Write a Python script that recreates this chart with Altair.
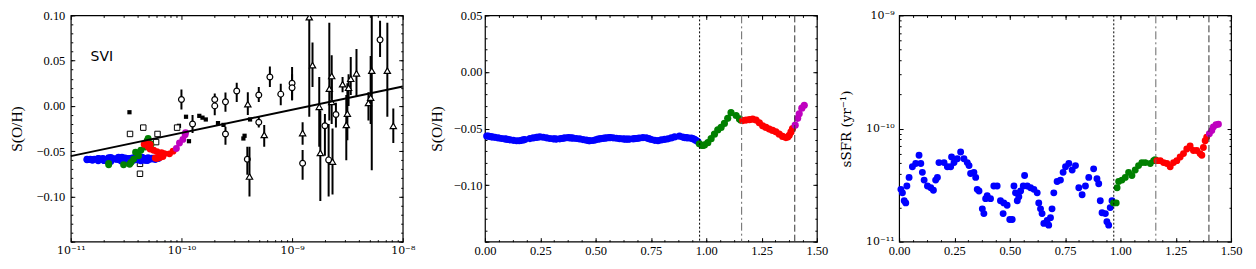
import altair as alt
import pandas as pd

# ---------------- simulated track (shared by the three panels) ----------------
# time (arbitrary units), sSFR in units of 1e-11 yr^-1, S(O/H)
blue_t = [0.008, 0.015, 0.023, 0.030, 0.035, 0.045, 0.060, 0.075, 0.090, 0.098,
          0.105, 0.113, 0.128, 0.143, 0.155, 0.165, 0.173, 0.180, 0.203, 0.218,
          0.233, 0.237, 0.248, 0.263, 0.278, 0.293, 0.308, 0.316, 0.323, 0.338,
          0.346, 0.353, 0.361, 0.376, 0.383, 0.391, 0.398, 0.413, 0.428, 0.443,
          0.458, 0.470, 0.473, 0.488, 0.500, 0.511, 0.519, 0.526, 0.534, 0.541,
          0.549, 0.561, 0.567, 0.579, 0.594, 0.609, 0.624, 0.631, 0.639, 0.646,
          0.654, 0.669, 0.676, 0.684, 0.691, 0.699, 0.714, 0.729, 0.741, 0.752,
          0.767, 0.782, 0.797, 0.812, 0.827, 0.842, 0.857, 0.879, 0.894, 0.902,
          0.909, 0.917, 0.932, 0.939, 0.947, 0.954, 0.962]
blue_ssfr = [2.9, 2.7, 2.3, 2.2, 3.1, 3.7, 4.6, 4.9, 5.8, 4.9,
             4.1, 3.5, 3.1, 3.0, 2.85, 3.5, 3.7, 5.0, 5.0, 4.6,
             4.6, 5.6, 5.0, 5.4, 6.2, 5.4, 5.0, 4.7, 4.0, 4.1,
             3.7, 2.9, 2.8, 1.95, 1.77, 2.4, 2.55, 2.4, 3.1, 3.1,
             2.3, 1.77, 2.2, 2.1, 1.57, 1.57, 3.1, 2.7, 2.3, 2.5,
             2.8, 3.1, 3.85, 3.1, 3.0, 2.9, 2.7, 2.2, 1.95, 1.77,
             1.45, 1.54, 1.4, 1.63, 1.95, 2.7, 3.4, 3.5, 4.1, 4.6,
             4.9, 4.3, 4.7, 3.0, 2.6, 3.1, 3.7, 4.4, 3.6, 3.25,
             2.3, 1.8, 1.77, 1.5, 1.4, 2.0, 2.3]
blue_soh = [-0.0566, -0.0568, -0.0571, -0.0573, -0.0575, -0.0578, -0.0583, -0.0588, -0.0592, -0.0594,
            -0.0597, -0.0600, -0.0604, -0.0608, -0.0608, -0.0604, -0.0601, -0.0598, -0.0589, -0.0583,
            -0.0578, -0.0577, -0.0573, -0.0577, -0.0582, -0.0588, -0.0591, -0.0592, -0.0593, -0.0591,
            -0.0588, -0.0586, -0.0583, -0.0581, -0.0582, -0.0583, -0.0585, -0.0588, -0.0592, -0.0598,
            -0.0603, -0.0607, -0.0608, -0.0606, -0.0600, -0.0594, -0.0591, -0.0589, -0.0587, -0.0585,
            -0.0583, -0.0581, -0.0580, -0.0582, -0.0586, -0.0590, -0.0592, -0.0593, -0.0594, -0.0594,
            -0.0593, -0.0591, -0.0590, -0.0588, -0.0586, -0.0584, -0.0580, -0.0582, -0.0590, -0.0597,
            -0.0604, -0.0607, -0.0601, -0.0596, -0.0591, -0.0583, -0.0574, -0.0568, -0.0576, -0.0580,
            -0.0581, -0.0583, -0.0585, -0.0590, -0.0596, -0.0605, -0.0615]

green_t = [0.969, 0.981, 0.985, 0.992, 1.007, 1.022, 1.037, 1.052, 1.067, 1.082,
           1.097, 1.112, 1.135, 1.150, 1.157]
green_ssfr = [2.2, 2.2, 3.0, 3.4, 3.5, 3.7, 4.1, 3.85, 4.3, 4.7,
              5.0, 5.0, 4.9, 5.2, 5.3]
green_soh = [-0.0635, -0.0650, -0.0650, -0.0645, -0.0625, -0.0590, -0.0550, -0.0512, -0.0490, -0.0455,
             -0.0410, -0.0360, -0.0385, -0.0415, -0.0426]

red_t = [1.165, 1.180, 1.195, 1.210, 1.225, 1.240, 1.255, 1.270, 1.285, 1.300,
         1.315, 1.330, 1.345, 1.360, 1.368, 1.375, 1.383, 1.390]
red_ssfr = [5.2, 5.2, 5.0, 4.9, 4.6, 5.0, 5.2, 5.6, 6.0, 6.6,
            7.0, 6.4, 6.4, 6.0, 5.8, 6.8, 7.8, 8.4]
red_soh = [-0.0430, -0.0425, -0.0422, -0.0417, -0.0425, -0.0450, -0.0476, -0.0490, -0.0505, -0.0517,
           -0.0529, -0.0550, -0.0570, -0.0580, -0.0575, -0.0560, -0.0530, -0.0500]

magenta_t = [1.402, 1.413, 1.420, 1.432, 1.443]
magenta_ssfr = [9.0, 9.6, 10.3, 10.8, 10.9]
magenta_soh = [-0.0470, -0.0410, -0.0370, -0.0320, -0.0295]

phase_names = ["blue", "green", "red", "magenta"]
phase_colors = ["#0000ff", "#008000", "#ff0000", "#bf00bf"]

# ---------------- observations (panel 1) ----------------
fsq_x = [3.39e-11, 1.10e-10, 9.5e-11, 1.45e-10, 1.55e-10, 1.66e-10, 2.14e-10, 2.40e-10,
         1.17e-10, 3.63e-10, 3.72e-10, 4.17e-10]
fsq_y = [-0.007, -0.012, -0.022, -0.011, -0.013, -0.015, -0.019, -0.021,
         -0.039, -0.036, -0.033, -0.015]

osq_x = [3.43e-11, 4.52e-11, 6.08e-11, 9.14e-11, 4.22e-11, 4.22e-11, 5.9e-11]
osq_y = [-0.031, -0.024, -0.031, -0.024, -0.064, -0.075, -0.040]

circ_x = [1.0e-10, 1.26e-10, 2.0e-10, 2.0e-10, 2.5e-10, 2.5e-10, 3.16e-10, 5.0e-10, 5.0e-10,
          6.3e-10, 7.9e-10, 1.0e-9, 1.0e-9, 3.94e-10, 1.245e-9, 1.98e-9, 2.14e-9, 2.49e-9, 6.24e-9]
circ_y = [0.007, -0.020, 0.007, 0.000, 0.0045, -0.031, 0.0165, 0.012, -0.018,
          0.032, 0.013, 0.025, 0.020, -0.059, -0.0634, -0.022, -0.0597, -0.0095, 0.073]
circ_lo = [-0.004, -0.030, -0.002, -0.0103, -0.0066, -0.043, 0.0044, 0.0044, -0.024,
           0.0209, 0.0007, 0.0062, 0.0062, -0.076, -0.0817, -0.055, -0.100, -0.024, 0.054]
circ_hi = [0.018, -0.010, 0.0136, 0.008, 0.0147, -0.023, 0.0256, 0.021, -0.012,
           0.0436, 0.0246, 0.0429, 0.035, -0.045, -0.0487, -0.009, -0.020, 0.0035, 0.094]

tri_x = [3.98e-10, 4.12e-10, 5.6e-10, 1.43e-9, 1.53e-9, 1.245e-9, 1.76e-9, 1.80e-9,
         2.17e-9, 2.28e-9, 2.28e-9, 2.32e-9, 2.86e-9, 3.39e-9, 3.16e-9, 3.09e-9,
         3.24e-9, 3.82e-9, 4.9e-9, 5.25e-9, 5.13e-9, 7.26e-9, 8.22e-9]
tri_y = [0.002, -0.078, -0.032, 0.098, 0.045, -0.030, -0.001, -0.052,
         0.019, 0.033, 0.0044, -0.0615, 0.024, 0.030, -0.0085, -0.021,
         0.020, 0.036, 0.0033, 0.039, 0.0092, 0.039, -0.022]
tri_lo = [-0.010, -0.100, -0.045, -0.012, 0.021, -0.043, -0.045, -0.105,
          -0.016, 0.008, -0.020, -0.098, 0.015, 0.012, -0.038, -0.060,
          0.000, 0.010, -0.016, -0.071, -0.020, -0.012, -0.041]
tri_hi = [0.015, -0.045, -0.021, 0.200, 0.070, -0.018, 0.032, -0.005,
          0.092, 0.056, 0.030, -0.025, 0.032, 0.054, 0.025, 0.012,
          0.035, 0.063, 0.015, 0.149, 0.055, 0.092, -0.003]

fit_x = [1e-11, 1e-8]
fit_y = [-0.0555, 0.0215]

note_text = ["SVI"]
note_x = [1.51e-11]
note_y = [0.050]

# vertical phase boundaries (panels 2 and 3)
vline_t = [0.97, 1.16, 1.40]

# ---------------- tables ----------------
rows = []
for name, ts, ss, so in [("blue", blue_t, blue_ssfr, blue_soh),
                         ("green", green_t, green_ssfr, green_soh),
                         ("red", red_t, red_ssfr, red_soh),
                         ("magenta", magenta_t, magenta_ssfr, magenta_soh)]:
    for a, b, c in zip(ts, ss, so):
        rows.append({"t": a, "ssfr": b * 1e-11, "soh": c, "phase": name})
track = pd.DataFrame(rows)

fsq = pd.DataFrame({"x": fsq_x, "y": fsq_y})
osq = pd.DataFrame({"x": osq_x, "y": osq_y})
circ = pd.DataFrame({"x": circ_x, "y": circ_y, "lo": circ_lo, "hi": circ_hi})
tri = pd.DataFrame({"x": tri_x, "y": tri_y, "lo": tri_lo, "hi": tri_hi})
fit = pd.DataFrame({"x": fit_x, "y": fit_y})
note = pd.DataFrame({"x": note_x, "y": note_y, "text": note_text})
vl = pd.DataFrame({"t": vline_t, "style": ["dotted", "dashdot", "dashed"]})

# ---------------- styling helpers ----------------
SERIF = "Liberation Serif"
SUPFONT = "DejaVu Serif"   # has all superscript glyphs
W, H = 333, 227
DOT = 48

LOGEXPR = ("round(log(datum.value)/LN10) == -11 ? '10⁻¹¹' : "
           "round(log(datum.value)/LN10) == -10 ? '10⁻¹⁰' : "
           "round(log(datum.value)/LN10) == -9 ? '10⁻⁹' : '10⁻⁸'")

color_scale = alt.Scale(domain=phase_names, range=phase_colors)


def tick_layers(data, xf, yf, xsc, ysc, xmaj, xmin, ymaj, ymin):
    out = []
    for xo, yo, xv, yv, L in [("bottom", "left", xmaj, ymaj, 4),
                              ("bottom", "left", xmin, ymin, 2),
                              ("top", "right", xmaj, ymaj, 4),
                              ("top", "right", xmin, ymin, 2)]:
        common = dict(labels=False, domain=False, grid=False, ticks=True,
                      tickColor="black", tickWidth=1, tickSize=L, offset=-L, title=None)
        out.append(alt.Chart(data).mark_point(opacity=0).encode(
            x=alt.X(xf, scale=xsc, axis=alt.Axis(orient=xo, values=xv, **common)),
            y=alt.Y(yf, scale=ysc, axis=alt.Axis(orient=yo, values=yv, **common)),
        ))
    return out


def vlines(xsc, ysc):
    styles = [("dotted", [2, 2], "black"), ("dashdot", [8, 3, 2, 3], "#666666"), ("dashed", [7, 3], "#333333")]
    out = []
    for name, dash, col in styles:
        out.append(alt.Chart(vl).transform_filter(alt.datum.style == name).mark_rule(
            strokeDash=dash, color=col, strokeWidth=1).encode(
            x=alt.X("t:Q", scale=xsc, axis=None)))
    return out


log_minor_1 = [m * 10.0 ** e for e in (-11, -10, -9) for m in range(2, 10)]
log_minor_3 = [m * 10.0 ** e for e in (-11, -10) for m in range(2, 10)]
t_major = [0, 0.25, 0.5, 0.75, 1.0, 1.25, 1.5]
t_minor = [i * 0.0625 for i in range(25)]

# ---------------- panel 1 ----------------
xs1 = alt.Scale(type="log", domain=[1e-11, 1e-8], nice=False)
ys1 = alt.Scale(domain=[-0.15, 0.10], nice=False, zero=False)
y1_major = [-0.15, -0.10, -0.05, 0.0, 0.05, 0.10]
y1_minor = [round(-0.15 + 0.01 * i, 2) for i in range(26)]

def X1(f):
    return alt.X(f, scale=xs1, axis=None)

def Y1(f):
    return alt.Y(f, scale=ys1, axis=None)

p1_layers = [
    alt.Chart(fsq).mark_square(size=18, color="black", opacity=1).encode(x=X1("x:Q"), y=Y1("y:Q")),
    alt.Chart(osq).mark_point(shape="square", size=30, filled=True, fill="white", stroke="black",
                              strokeWidth=1, opacity=1).encode(x=X1("x:Q"), y=Y1("y:Q")),
    alt.Chart(track).mark_circle(size=DOT, opacity=1).encode(
        x=X1("ssfr:Q"), y=Y1("soh:Q"),
        color=alt.Color("phase:N", scale=color_scale, legend=None)),
    alt.Chart(circ).mark_rule(color="black", strokeWidth=2, clip=True).encode(
        x=X1("x:Q"), y=Y1("lo:Q"), y2="hi:Q"),
    alt.Chart(circ).mark_point(shape="circle", size=34, filled=True, fill="white", stroke="black",
                               strokeWidth=1.2, opacity=1).encode(x=X1("x:Q"), y=Y1("y:Q")),
    alt.Chart(tri).mark_rule(color="black", strokeWidth=2, clip=True).encode(
        x=X1("x:Q"), y=Y1("lo:Q"), y2="hi:Q"),
    alt.Chart(tri).mark_point(shape="triangle-up", size=40, filled=True, fill="white", stroke="black",
                              strokeWidth=1.2, opacity=1, clip=True).encode(x=X1("x:Q"), y=Y1("y:Q")),
    alt.Chart(fit).mark_line(color="black", strokeWidth=2).encode(
        x=alt.X("x:Q", scale=xs1, axis=alt.Axis(
            orient="bottom", values=[1e-11, 1e-10, 1e-9, 1e-8], labelExpr=LOGEXPR,
            labelFont=SUPFONT, labelFontSize=11,
            ticks=False, tickSize=0, domain=False, grid=False, title=None,
            labelFlush=False, labelPadding=3)),
        y=alt.Y("y:Q", scale=ys1, axis=alt.Axis(
            orient="left", values=[-0.10, -0.05, 0.0, 0.05, 0.10], format=".2f",
            ticks=False, tickSize=0, domain=False, grid=False, title="S(O/H)",
            labelPadding=6, titlePadding=12))),
    alt.Chart(note).mark_text(font="DejaVu Sans", fontSize=14, align="left", baseline="alphabetic",
                              color="black").encode(x=X1("x:Q"), y=Y1("y:Q"), text="text:N"),
] + tick_layers(fit, "x:Q", "y:Q", xs1, ys1, [1e-11, 1e-10, 1e-9, 1e-8], log_minor_1, y1_major, y1_minor)

p1 = alt.layer(*p1_layers).resolve_axis(x="independent", y="independent").properties(width=W, height=H)

# ---------------- panel 2 ----------------
xs2 = alt.Scale(domain=[0, 1.5], nice=False, zero=False)
ys2 = alt.Scale(domain=[-0.15, 0.05], nice=False, zero=False)
y2_major = [-0.15, -0.10, -0.05, 0.0, 0.05]
y2_minor = [round(-0.15 + 0.01 * i, 2) for i in range(21)]

p2_layers = [
    alt.Chart(track).mark_circle(size=DOT + 4, opacity=1).encode(
        x=alt.X("t:Q", scale=xs2, axis=alt.Axis(
            orient="bottom", values=t_major, format=".2f", ticks=False, tickSize=0,
            domain=False, grid=False, title=None, labelFlush=False, labelPadding=3)),
        y=alt.Y("soh:Q", scale=ys2, axis=alt.Axis(
            orient="left", values=[-0.10, -0.05, 0.0, 0.05], format=".2f", ticks=False, tickSize=0,
            domain=False, grid=False, title="S(O/H)", labelPadding=3, titlePadding=9)),
        color=alt.Color("phase:N", scale=color_scale, legend=None)),
] + vlines(xs2, ys2) + tick_layers(track, "t:Q", "soh:Q", xs2, ys2, t_major, t_minor, y2_major, y2_minor)

p2 = alt.layer(*p2_layers).resolve_axis(x="independent", y="independent").properties(width=W, height=H)

# ---------------- panel 3 ----------------
ys3 = alt.Scale(type="log", domain=[1e-11, 1e-9], nice=False)

p3_layers = [
    alt.Chart(track).mark_circle(size=DOT, opacity=1).encode(
        x=alt.X("t:Q", scale=xs2, axis=alt.Axis(
            orient="bottom", values=t_major, format=".2f", ticks=False, tickSize=0,
            domain=False, grid=False, title=None, labelFlush=False, labelPadding=3)),
        y=alt.Y("ssfr:Q", scale=ys3, axis=alt.Axis(
            orient="left", values=[1e-11, 1e-10, 1e-9], labelExpr=LOGEXPR, ticks=False, tickSize=0,
            labelFont=SUPFONT, labelFontSize=11,
            domain=False, grid=False, title="sSFR (yr⁻¹)", titleFont=SUPFONT, titleFontSize=13.5,
            labelPadding=5, titlePadding=12)),
        color=alt.Color("phase:N", scale=color_scale, legend=None)),
] + vlines(xs2, ys3) + tick_layers(track, "t:Q", "ssfr:Q", xs2, ys3, t_major, t_minor,
                                   [1e-11, 1e-10, 1e-9], log_minor_3)

p3 = alt.layer(*p3_layers).resolve_axis(x="independent", y="independent").properties(width=W, height=H)

chart = alt.hconcat(p1, p2, p3, spacing=82.5, bounds="flush").properties(
    padding={"left": 0, "top": 0, "right": 5, "bottom": 5},
).configure_view(
    stroke="black", strokeWidth=1.2
).configure_axis(
    labelFont=SERIF, labelFontSize=12.5, titleFont=SERIF, titleFontSize=15.5,
    titleFontWeight="normal", labelColor="black", titleColor="black",
)

chart.save("out.html", embed_options={"renderer": "svg", "actions": False})
